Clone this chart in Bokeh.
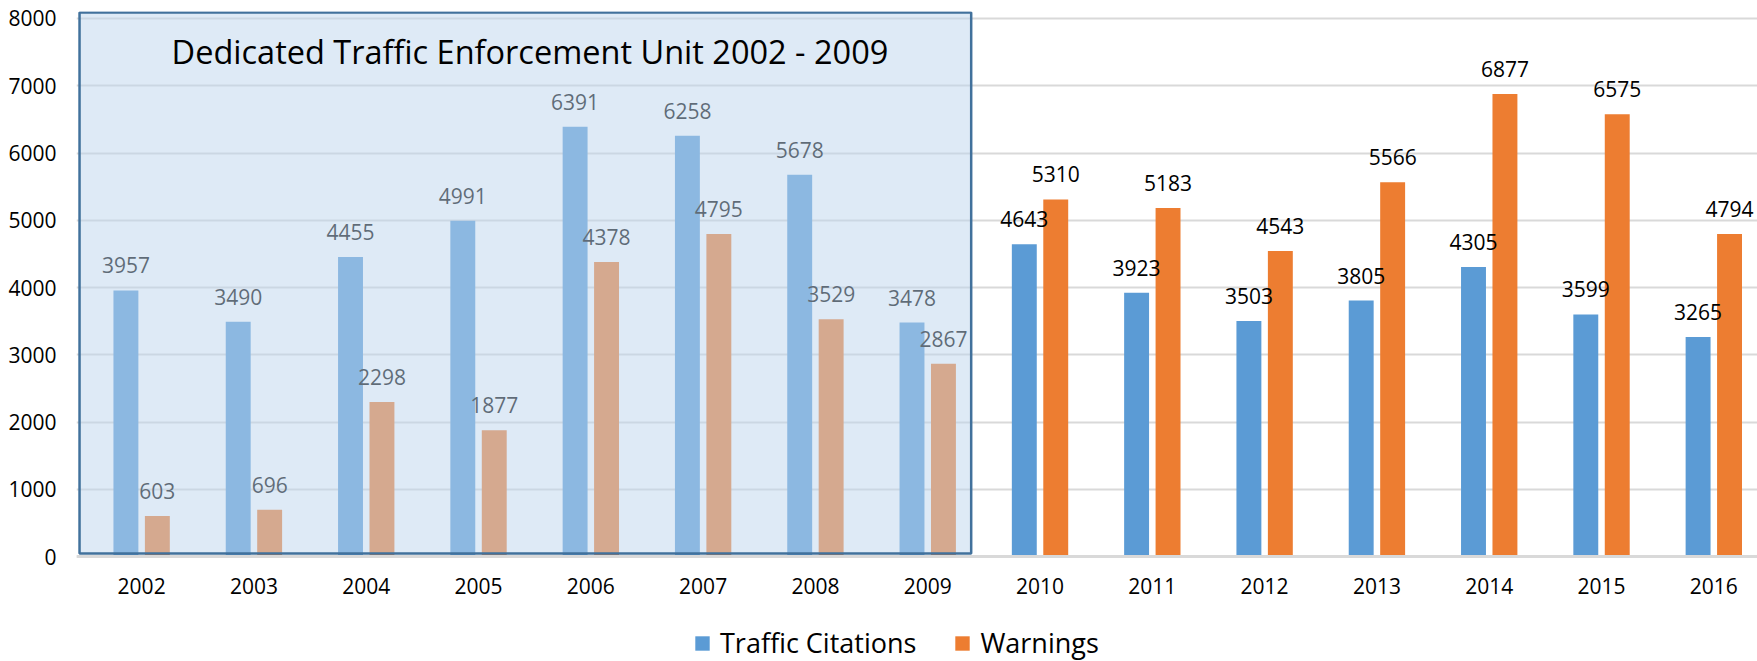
from bokeh.plotting import figure
from bokeh.models import (ColumnDataSource, BoxAnnotation, Label, Legend, LegendItem,
                          FixedTicker, Range1d)
from bokeh.transform import dodge
from bokeh.core.properties import value
from bokeh.embed import file_html
from bokeh.resources import INLINE

# ---- data ----
years = ["2002", "2003", "2004", "2005", "2006", "2007", "2008", "2009",
         "2010", "2011", "2012", "2013", "2014", "2015", "2016"]
citations = [3957, 3490, 4455, 4991, 6391, 6258, 5678, 3478,
             4643, 3923, 3503, 3805, 4305, 3599, 3265]
warnings = [603, 696, 2298, 1877, 4378, 4795, 3529, 2867,
            5310, 5183, 4543, 5566, 6877, 6575, 4794]
series_names = ["Traffic Citations", "Warnings"]
y_ticks = [0, 1000, 2000, 3000, 4000, 5000, 6000, 7000, 8000]
unit_title = "Dedicated Traffic Enforcement Unit 2002 - 2009"
unit_first, unit_last = "2002", "2009"

# ---- styles ----
BLUE = "#5b9bd5"
ORANGE = "#ed7d31"
FONT = "Open Sans"
GRID = "#d9d9d9"

idx = list(range(len(years)))
src = ColumnDataSource(dict(
    x=idx, c=citations, w=warnings,
    cl=[str(v) for v in citations], wl=[str(v) for v in warnings],
))

p = figure(width=1757, height=661,
           x_range=Range1d(-0.58, 14.389), y_range=Range1d(-1561, 8104),
           output_backend="svg", toolbar_location=None,
           min_border_left=76, min_border_right=0, min_border_top=11, min_border_bottom=0)
p.outline_line_color = None
p.background_fill_color = "white"
p.border_fill_color = "white"

off = 0.14
bw = 0.222
rb = p.vbar(x=dodge("x", -off), top="c", width=bw, source=src,
            fill_color=BLUE, line_color=None)
ro = p.vbar(x=dodge("x", off), top="w", width=bw, source=src,
            fill_color=ORANGE, line_color=None)

for col, lab, d in (("c", "cl", -off), ("w", "wl", off)):
    p.text(x=dodge("x", d), y=col, text=lab, source=src,
           text_align="center", text_baseline="middle", y_offset=-25,
           text_font=value(FONT), text_font_size="21px", text_color="black")

# grid / axes
p.xgrid.grid_line_color = None
p.ygrid.ticker = FixedTicker(ticks=y_ticks)
p.ygrid.grid_line_color = GRID
p.ygrid.grid_line_width = 2

p.yaxis.ticker = FixedTicker(ticks=y_ticks)
p.yaxis.axis_line_color = None
p.yaxis.major_tick_line_color = None
p.yaxis.minor_tick_line_color = None
p.yaxis.major_label_text_font = FONT
p.yaxis.major_label_text_font_size = "21px"
p.yaxis.major_label_text_color = "black"
p.yaxis.major_label_standoff = 14

p.xaxis.fixed_location = 0
p.xaxis.ticker = FixedTicker(ticks=idx)
p.xaxis.major_label_overrides = {i: y for i, y in zip(idx, years)}
p.xaxis.axis_line_color = GRID
p.xaxis.axis_line_width = 3
p.xaxis.major_tick_line_color = None
p.xaxis.minor_tick_line_color = None
p.xaxis.major_label_text_font = FONT
p.xaxis.major_label_text_font_size = "21px"
p.xaxis.major_label_text_color = "black"
p.xaxis.major_label_standoff = 15

# highlighted unit period
i0, i1 = years.index(unit_first), years.index(unit_last)
box = BoxAnnotation(left=i0 - 0.553, right=i1 + 0.387, bottom=45, top=8089,
                    fill_color="#bdd5ed", fill_alpha=0.5,
                    line_color="#41719c", line_alpha=1.0, line_width=2.5)
p.add_layout(box)
p.add_layout(Label(x=(i0 + i1) / 2 - 0.042, y=7514, text=unit_title,
                   text_align="center", text_baseline="middle",
                   text_font=FONT, text_font_size="32.5px", text_color="black"))

legend = Legend(items=[LegendItem(label=series_names[0], renderers=[rb]),
                       LegendItem(label=series_names[1], renderers=[ro])],
                orientation="horizontal", location=(617, 0),
                border_line_color=None, background_fill_alpha=0,
                label_text_font=FONT, label_text_font_size="27px",
                label_text_color="black",
                glyph_width=18, glyph_height=18, label_standoff=9,
                spacing=37, padding=0, margin=0)
p.add_layout(legend)

open("out.html", "w").write(file_html(p, INLINE))
